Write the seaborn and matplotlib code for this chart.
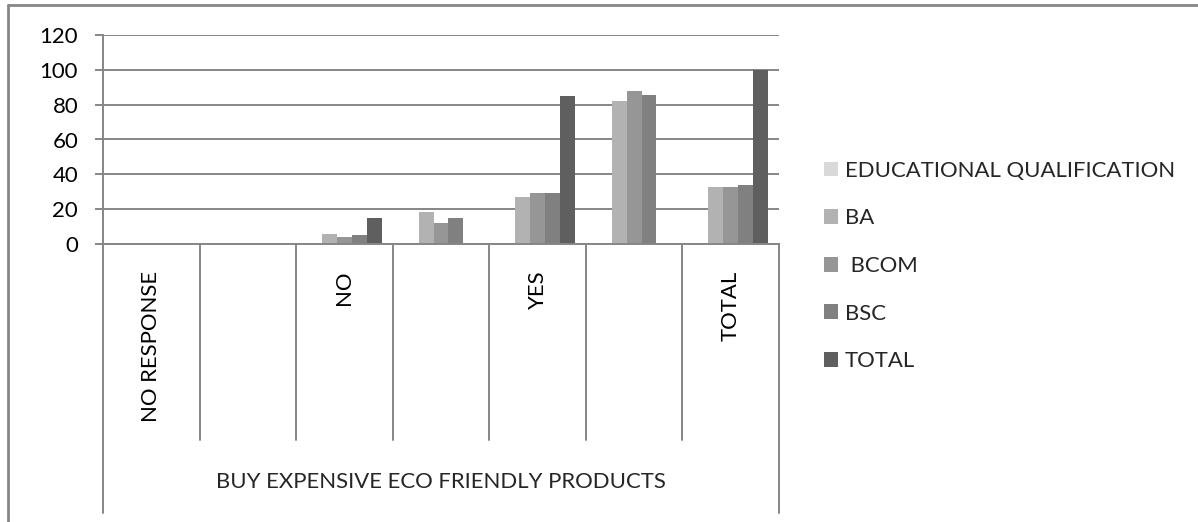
import matplotlib
matplotlib.use("Agg")
import matplotlib.pyplot as plt
import matplotlib.transforms as mtransforms
from matplotlib.lines import Line2D
import numpy as np
import pandas as pd
import seaborn as sns

# ---- data ----
category_keys = ["NO RESPONSE", "NO RESPONSE %", "NO", "NO %", "YES", "YES %", "TOTAL"]
tick_labels = ["NO RESPONSE", "", "NO", "", "YES", "", "TOTAL"]
series_names = ["EDUCATIONAL QUALIFICATION", "BA", " BCOM", "BSC", "TOTAL"]
edu_values = [0, 0, 0, 0, 0, 0, 0]
ba_values = [0, 0, 6, 18.18, 27, 81.82, 33]
bcom_values = [0, 0, 4, 12.12, 29, 87.88, 33]
bsc_values = [0, 0, 5, 14.71, 29, 85.29, 34]
total_values = [0, 0, 15, np.nan, 85, np.nan, 100]
group_label = "BUY EXPENSIVE ECO FRIENDLY PRODUCTS"
y_ticks = [0, 20, 40, 60, 80, 100, 120]
colors = ["#d9d9d9", "#b2b2b2", "#969696", "#808080", "#5f5f5f"]

rows = []
for name, vals in zip(series_names, [edu_values, ba_values, bcom_values, bsc_values, total_values]):
    for key, v in zip(category_keys, vals):
        rows.append({"cat": key, "series": name, "val": v})
df = pd.DataFrame(rows).dropna()

sns.set_style("white")
plt.rcParams["font.family"] = ["Lato", "DejaVu Sans"]
FS = 15.9
GRAY = "#868686"

W, H = 1198, 522
fig = plt.figure(figsize=(W / 100, H / 100), dpi=100)
ax = fig.add_axes([103 / W, 1 - 244 / H, (779 - 103) / W, (244 - 35) / H])

sns.barplot(data=df, x="cat", y="val", hue="series", order=category_keys,
            hue_order=series_names, palette=colors, saturation=1, width=0.77,
            gap=0, linewidth=0, errorbar=None, legend=True, ax=ax)

ax.set_xlim(-0.5, len(category_keys) - 0.5)
ax.set_ylim(0, 120)
ax.set_yticks(y_ticks)
ax.yaxis.grid(True, color=GRAY, linewidth=1.4)
ax.set_axisbelow(True)
for s in ["top", "right"]:
    ax.spines[s].set_visible(False)
for s in ["left", "bottom"]:
    ax.spines[s].set_color(GRAY)
    ax.spines[s].set_linewidth(1.4)
ax.tick_params(axis="y", length=6, width=1.4, color=GRAY, pad=12, labelsize=FS, labelcolor="black", left=True)
ax.set_xticks(range(len(category_keys)), labels=tick_labels, rotation=90)
ax.tick_params(axis="x", length=0, pad=19, labelsize=FS, labelcolor="black")
ax.set_xlabel("")
ax.set_ylabel("")

# category dividers below the axis
btrans = mtransforms.blended_transform_factory(ax.transData, fig.transFigure)
n = len(category_keys)
for i in range(n + 1):
    xb = i - 0.5
    yend = 513 if i in (0, n) else 440
    ax.add_line(Line2D([xb, xb], [1 - 244 / H, 1 - yend / H], transform=btrans,
                       color=GRAY, linewidth=1.4, clip_on=False))

fig.text(441 / W, 1 - 482 / H, group_label, ha="center", va="center", fontsize=FS)

# outer chart border (top and left visible)
fig.add_artist(Line2D([8 / W, 1], [1 - 5 / H, 1 - 5 / H], transform=fig.transFigure, color=GRAY, linewidth=2))
fig.add_artist(Line2D([8 / W, 8 / W], [1 - 5 / H, 0], transform=fig.transFigure, color=GRAY, linewidth=2))

handles, labels = ax.get_legend_handles_labels()
ax.get_legend().remove()
fig.legend(handles, labels, loc="center left", bbox_to_anchor=(815 / W, 1 - 266 / H),
           frameon=False, handlelength=0.65, handleheight=0.65, handletextpad=0.3,
           labelspacing=1.25, fontsize=FS, borderaxespad=0)

fig.savefig("out.png", dpi=100)
